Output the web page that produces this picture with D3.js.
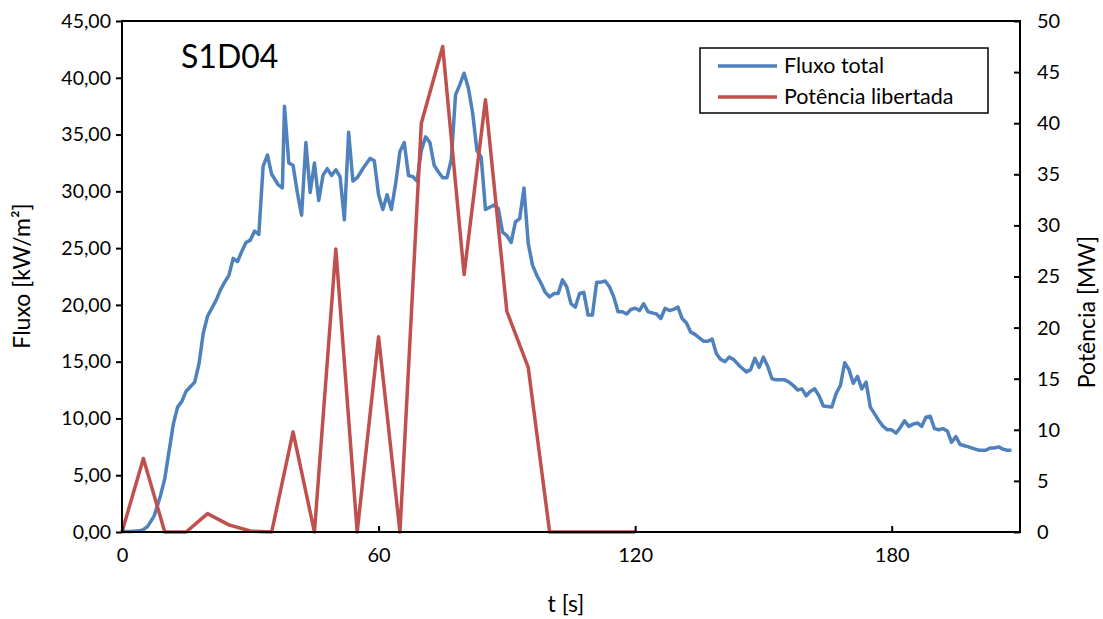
<!DOCTYPE html>
<html>
<head>
<meta charset="utf-8">
<script src="https://cdn.jsdelivr.net/npm/d3@7"></script>
<style>
	body { margin: 0; background: #fff; }
	text { font-family: Lato, "Open Sans", sans-serif; fill: #000; }
</style>
</head>
<body>
<div id="chart"></div>
<script>
// time [s] and total flux [kW/m2]
var fluxoT = [0, 2, 4, 5, 6, 7.5, 9, 10, 11, 12, 13, 14, 15, 17, 18, 19, 20, 22, 23, 24,
	25, 26, 27, 28, 29, 30, 31, 32, 33, 34, 35, 36.5, 37.5, 38, 39, 40, 41, 42, 43, 44,
	45, 46, 47, 48, 49, 50, 51, 52, 53, 54, 55, 56.5, 58, 59, 60, 61, 62, 63, 64, 65,
	66, 67, 68, 69, 70, 71, 72, 73, 74, 75, 76, 77, 78, 79, 80, 81, 82, 83, 84, 85,
	86, 87, 88, 89, 90, 91, 92, 93, 94, 95, 96, 97, 98, 99, 100, 101, 102, 103, 104, 105,
	106, 107, 108, 109, 110, 111, 112, 113, 114, 115, 116, 117, 118, 119, 120, 121, 122, 123, 124, 125,
	126, 127, 128, 129, 130, 131, 132, 133, 134, 135, 136, 137, 138, 139, 140, 141, 142, 143, 144.5, 146,
	147, 148, 149, 150, 151, 152, 153, 155, 156, 157, 158, 159, 160, 161, 162, 163, 164, 166, 167, 168,
	169, 170, 171, 172, 173, 174, 175, 176, 177, 178, 179, 180, 181, 182, 183, 184, 185, 186, 187, 188,
	189, 190, 191, 192, 193, 194, 195, 196, 197, 198, 199.5, 200.5, 202, 203, 204, 205, 206, 207, 208];
var fluxo = [0.05, 0.05, 0.1, 0.2, 0.5, 1.4, 3.2, 4.7, 7.1, 9.5, 11, 11.5, 12.4, 13.2, 14.8, 17.5, 19, 20.4, 21.3, 22,
	22.6, 24.1, 23.8, 24.7, 25.5, 25.7, 26.5, 26.2, 32.2, 33.2, 31.5, 30.6, 30.3, 37.5, 32.5, 32.3, 29.9, 27.9, 34.3, 29.9,
	32.5, 29.2, 31.4, 32, 31.4, 31.9, 31.3, 27.5, 35.2, 30.9, 31.2, 32.1, 32.9, 32.7, 29.7, 28.4, 29.7, 28.4, 30.7, 33.5,
	34.3, 31.4, 31.3, 30.9, 33.6, 34.8, 34.3, 32.3, 31.7, 31.2, 31.2, 32.8, 38.5, 39.4, 40.4, 39.1, 36.9, 33.6, 33, 28.4,
	28.6, 28.8, 28.5, 26.4, 26.1, 25.5, 27.3, 27.6, 30.3, 25.4, 23.5, 22.6, 21.9, 21.1, 20.7, 21, 21, 22.2, 21.6, 20.1,
	19.8, 21, 21.1, 19.1, 19.1, 22, 22, 22.1, 21.6, 20.7, 19.4, 19.4, 19.2, 19.6, 19.7, 19.5, 20.1, 19.4, 19.3, 19.2,
	18.8, 19.7, 19.5, 19.6, 19.8, 18.8, 18.4, 17.6, 17.4, 17.1, 16.8, 16.8, 17, 15.7, 15.2, 15, 15.4, 15.2, 14.6, 14.1,
	14.3, 15.3, 14.5, 15.4, 14.6, 13.5, 13.4, 13.4, 13.2, 12.9, 12.5, 12.6, 12, 12.4, 12.6, 12, 11.1, 11, 12.2, 12.9,
	14.9, 14.3, 13.1, 13.7, 12.6, 13.2, 11, 10.4, 9.8, 9.3, 9.0, 9.0, 8.7, 9.2, 9.8, 9.3, 9.5, 9.6, 9.3, 10.1,
	10.2, 9.1, 9.0, 9.1, 8.9, 7.9, 8.4, 7.7, 7.6, 7.5, 7.3, 7.2, 7.2, 7.4, 7.4, 7.5, 7.3, 7.2, 7.2];

// time [s] and released power [MW]
var potenciaT = [0, 5, 10, 15, 20, 25, 30, 35, 40, 45, 50, 55, 60, 65, 70, 75, 80, 85, 90, 95, 100, 105, 110, 115, 120];
var potencia = [0, 7.2, 0, 0, 1.8, 0.7, 0.1, 0, 9.8, 0, 27.7, 0, 19.1, 0, 40, 47.5, 25.2, 42.3, 21.6, 16.1, 0, 0, 0, 0, 0];

var xTicks = [0, 60, 120, 180];
var yLeftTicks = [0, 5, 10, 15, 20, 25, 30, 35, 40, 45];
var yRightTicks = [0, 5, 10, 15, 20, 25, 30, 35, 40, 45, 50];

var seriesNames = ["Fluxo total", "Potência libertada"];
var seriesColors = ["#4F81BD", "#C0504D"];

var width = 1103, height = 619;
var margin = {left: 122, right: 83, top: 21, bottom: 87};

var svg = d3.select("#chart").append("svg")
	.attr("width", width)
	.attr("height", height);

var x = d3.scaleLinear().domain([0, 210]).range([margin.left, width - margin.right]);
var yL = d3.scaleLinear().domain([0, 45]).range([height - margin.bottom, margin.top]);
var yR = d3.scaleLinear().domain([0, 50]).range([height - margin.bottom, margin.top]);

var pt = d3.formatLocale({decimal: ",", thousands: ".", grouping: [3], currency: ["", ""]});
var fmt2 = pt.format(".2f");

// plot lines
var lineL = d3.line()
	.x(function(d) { return x(d[0]); })
	.y(function(d) { return yL(d[1]); });
var lineR = d3.line()
	.x(function(d) { return x(d[0]); })
	.y(function(d) { return yR(d[1]); });

svg.append("path")
	.datum(d3.zip(fluxoT, fluxo))
	.attr("fill", "none")
	.attr("stroke", seriesColors[0])
	.attr("stroke-width", 3.5)
	.attr("stroke-linejoin", "round")
	.attr("d", lineL);

svg.append("path")
	.datum(d3.zip(potenciaT, potencia))
	.attr("fill", "none")
	.attr("stroke", seriesColors[1])
	.attr("stroke-width", 3.5)
	.attr("stroke-linejoin", "round")
	.attr("d", lineR);

// plot area border
svg.append("rect")
	.attr("x", margin.left)
	.attr("y", margin.top)
	.attr("width", width - margin.left - margin.right)
	.attr("height", height - margin.top - margin.bottom)
	.attr("fill", "none")
	.attr("stroke", "#000")
	.attr("stroke-width", 2);

function styleAxis(g, size) {
	g.select(".domain").remove();
	g.selectAll("line").attr("stroke", "#000").attr("stroke-width", 2);
	g.selectAll("text").style("font-size", size).attr("fill", "#000");
}

svg.append("g")
	.attr("transform", "translate(0," + (height - margin.bottom) + ")")
	.call(d3.axisBottom(x).tickValues(xTicks).tickSize(-6).tickPadding(16).tickFormat(d3.format("d")))
	.call(styleAxis, "20px");

svg.append("g")
	.attr("transform", "translate(" + margin.left + ",0)")
	.call(d3.axisLeft(yL).tickValues(yLeftTicks).tickSize(6).tickPadding(5).tickFormat(fmt2))
	.call(styleAxis, "19.5px");

svg.append("g")
	.attr("transform", "translate(" + (width - margin.right) + ",0)")
	.call(d3.axisRight(yR).tickValues(yRightTicks).tickSize(-6).tickPadding(17).tickFormat(d3.format("d")))
	.call(styleAxis, "20px");

// axis titles
svg.append("text")
	.attr("x", 566).attr("y", 612)
	.attr("text-anchor", "middle")
	.style("font-size", "23px")
	.text("t [s]");

svg.append("text")
	.attr("transform", "translate(30,276) rotate(-90)")
	.attr("text-anchor", "middle")
	.style("font-size", "23px")
	.text("Fluxo [kW/m²]");

svg.append("text")
	.attr("transform", "translate(1095,312) rotate(-90)")
	.attr("text-anchor", "middle")
	.style("font-size", "23px")
	.text("Potência [MW]");

// chart title
svg.append("text")
	.attr("x", 181).attr("y", 68)
	.style("font-size", "32px")
	.text("S1D04");

// legend
var lg = svg.append("g").attr("transform", "translate(700,48)");
lg.append("rect")
	.attr("width", 288).attr("height", 65)
	.attr("fill", "#fff")
	.attr("stroke", "#000")
	.attr("stroke-width", 1.5);
seriesNames.forEach(function(name, i) {
	var yy = 18 + i * 31;
	lg.append("line")
		.attr("x1", 18).attr("x2", 77)
		.attr("y1", yy).attr("y2", yy)
		.attr("stroke", seriesColors[i])
		.attr("stroke-width", 3.5);
	lg.append("text")
		.attr("x", 84).attr("y", yy + 7)
		.style("font-size", "21.5px")
		.text(name);
});
</script>
</body>
</html>
